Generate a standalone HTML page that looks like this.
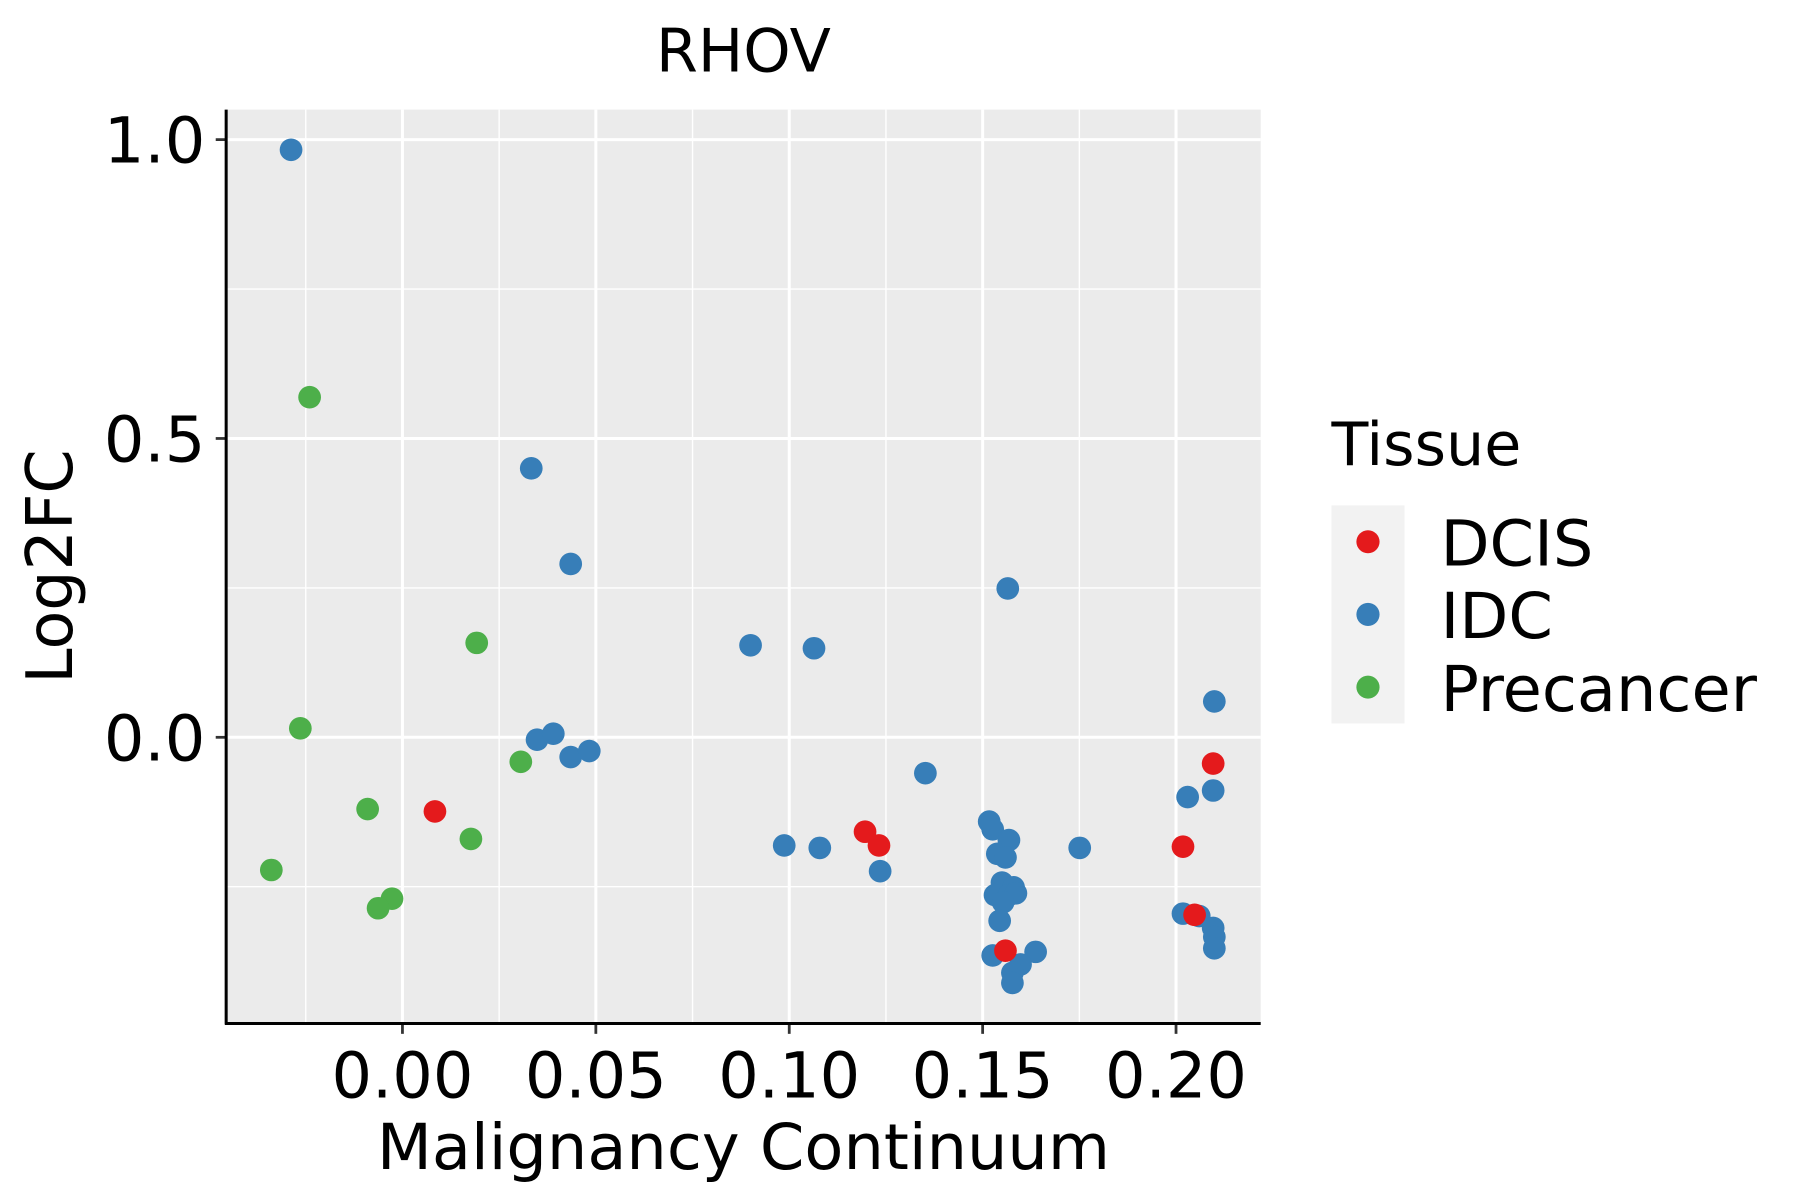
<!DOCTYPE html>
<html><head><meta charset="utf-8"><style>
html,body{margin:0;padding:0;background:#fff;}
svg{display:block;font-family:"DejaVu Sans","Liberation Sans",sans-serif;}
</style></head><body>
<svg id="chart" width="1800" height="1200" viewBox="0 0 1552 1040" preserveAspectRatio="none" xmlns="http://www.w3.org/2000/svg">
<rect x="0" y="0" width="1552" height="1040" fill="#fff"/>
<rect x="195" y="95" width="892" height="792" fill="#ebebeb"/>
<g id="grid"></g>
<g id="points"></g>
<g id="axes"></g>
<text x="641" y="62" font-size="52" text-anchor="middle" fill="#000">RHOV</text>
<text x="641" y="1013" font-size="55" text-anchor="middle" fill="#000">Malignancy Continuum</text>
<text transform="translate(62,491) rotate(-90)" font-size="55" text-anchor="middle" fill="#000">Log2FC</text>
<g>
<text x="1148" y="403" font-size="52" fill="#000">Tissue</text>
<rect x="1148" y="438" width="63" height="189" fill="#f2f2f2"/>
<g><circle cx="1179.5" cy="469.5" r="10" fill="#e41a1c"/><text x="1242" y="490" font-size="55">DCIS</text></g>
<g><circle cx="1179.5" cy="532.5" r="10" fill="#377eb8"/><text x="1242" y="553" font-size="55">IDC</text></g>
<g><circle cx="1179.5" cy="595.5" r="10" fill="#4daf4a"/><text x="1242" y="616" font-size="55">Precancer</text></g>
</g>
</svg>
<script>
const xTicks = [0.00, 0.05, 0.10, 0.15, 0.20];
const xTickLabels = ["0.00", "0.05", "0.10", "0.15", "0.20"];
const yTicks = [0.0, 0.5, 1.0];
const yTickLabels = ["0.0", "0.5", "1.0"];
const idcX = [-0.0288,0.0333,0.0435,0.1565,0.0900,0.1064,0.2099,0.0348,0.0390,0.0435,0.0483,0.1352,0.2030,0.2096,0.0987,0.1079,0.1235,0.1517,0.1526,0.1568,0.1538,0.1559,0.1751,0.1550,0.1580,0.1532,0.1568,0.1586,0.1553,0.1544,0.2018,0.2060,0.2096,0.2099,0.2099,0.1526,0.1637,0.1598,0.1577,0.1577];
const idcY = [0.983,0.450,0.290,0.249,0.154,0.149,0.060,-0.004,0.006,-0.033,-0.023,-0.060,-0.100,-0.089,-0.181,-0.185,-0.224,-0.141,-0.154,-0.172,-0.195,-0.201,-0.185,-0.243,-0.251,-0.264,-0.264,-0.261,-0.276,-0.307,-0.295,-0.299,-0.319,-0.334,-0.353,-0.365,-0.359,-0.380,-0.394,-0.411];
const dcisX = [0.0084,0.1196,0.1232,0.2096,0.2018,0.2048,0.1559];
const dcisY = [-0.124,-0.158,-0.181,-0.044,-0.183,-0.297,-0.357];
const preX = [-0.0240,0.0192,-0.0264,0.0306,-0.0090,0.0177,-0.0339,-0.0027,-0.0063];
const preY = [0.569,0.158,0.015,-0.041,-0.120,-0.170,-0.222,-0.270,-0.286];

const NS = "http://www.w3.org/2000/svg";
function sx(v){ return 347 + v * 3335; }
function sy(v){ return 639 - v * 518; }
const grid = document.getElementById('grid');
const axes = document.getElementById('axes');
const pts = document.getElementById('points');
function line(g,x1,y1,x2,y2,w,c){
  const l=document.createElementNS(NS,'line');
  l.setAttribute('x1',x1);l.setAttribute('y1',y1);l.setAttribute('x2',x2);l.setAttribute('y2',y2);
  l.setAttribute('stroke',c);l.setAttribute('stroke-width',w);
  g.appendChild(l);return l;
}
for(let i=0;i<xTicks.length-1;i++){
  const m=line(grid,sx((xTicks[i]+xTicks[i+1])/2),95,sx((xTicks[i]+xTicks[i+1])/2),887,1.2,'#fff');
  
  
}
for(let i=0;i<yTicks.length-1;i++){
  const v=(yTicks[i]+yTicks[i+1])/2;
  const m=line(grid,195,sy(v),1087,sy(v),1.2,'#fff');
  
  
}
const m0=line(grid,195,sy(-0.25),1087,sy(-0.25),1.2,'#fff');


const mx=line(grid,sx(-0.025),95,sx(-0.025),887,1.2,'#fff');


xTicks.forEach((v,i)=>{
  const g=line(grid,sx(v),95,sx(v),887,2.6,'#fff');
  
  
  line(axes,sx(v),887,sx(v),896,2.4,'#333');
  const t=document.createElementNS(NS,'text');
  t.setAttribute('x',sx(v));t.setAttribute('y',951);t.setAttribute('font-size','55');
  t.setAttribute('text-anchor','middle');t.setAttribute('fill','#000');
  t.textContent=xTickLabels[i];
  
  
  axes.appendChild(t);
});
yTicks.forEach((v,i)=>{
  const g=line(grid,195,sy(v),1087,sy(v),2.6,'#fff');
  
  
  line(axes,186,sy(v),195,sy(v),2.4,'#333');
  const t=document.createElementNS(NS,'text');
  t.setAttribute('x',177);t.setAttribute('y',sy(v)+20);t.setAttribute('font-size','55');
  t.setAttribute('text-anchor','end');t.setAttribute('fill','#000');
  t.textContent=yTickLabels[i];
  
  
  axes.appendChild(t);
});
const ax1=line(axes,195,95,195,888,2.6,'#000');


const ax2=line(axes,194,887,1087,887,2.6,'#000');


function drawSeries(xs,ys,color,name){
  xs.forEach((x,i)=>{
    const c=document.createElementNS(NS,'circle');
    c.setAttribute('cx',sx(x));c.setAttribute('cy',sy(ys[i]));c.setAttribute('r',9.8);
    c.setAttribute('fill',color);
    
    
    pts.appendChild(c);
  });
}
drawSeries(idcX,idcY,'#377eb8','point-idc');
drawSeries(dcisX,dcisY,'#e41a1c','point-dcis');
drawSeries(preX,preY,'#4daf4a','point-precancer');
</script>
</body></html>
